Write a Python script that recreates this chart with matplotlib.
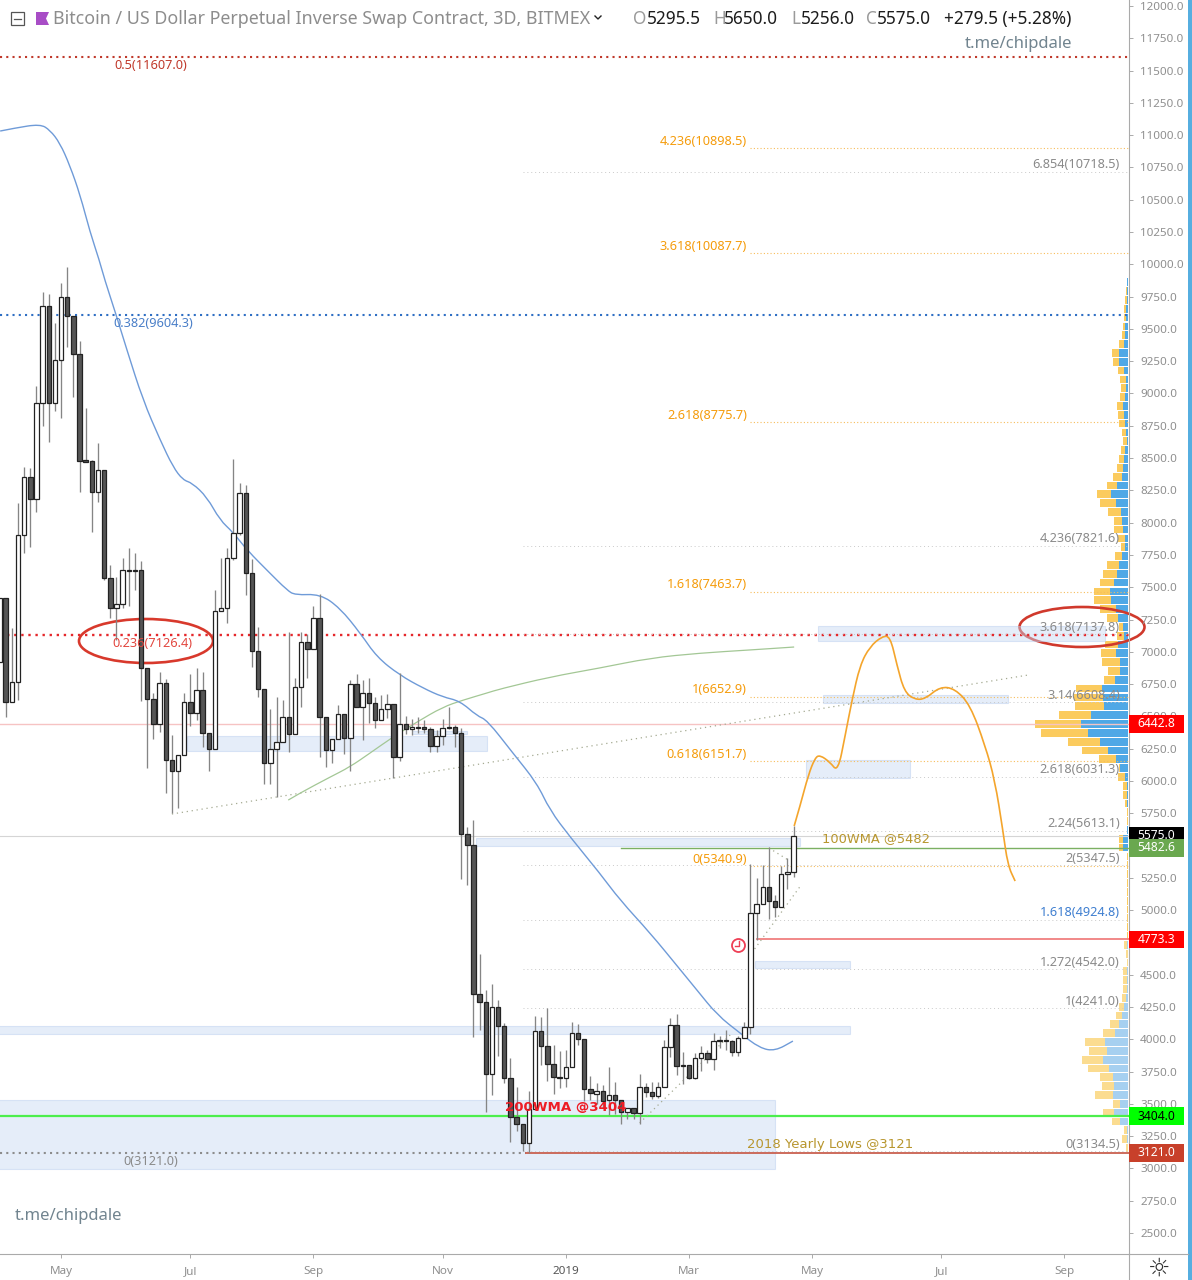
import numpy as np
import matplotlib
matplotlib.use('Agg')
import matplotlib.pyplot as plt
from matplotlib.patches import Rectangle, Ellipse, Circle, Polygon, PathPatch
from matplotlib.path import Path

plt.rcParams['font.family'] = ['Noto Sans', 'DejaVu Sans']

# 3D candles, first one is cut by the left edge of the chart
first_candle = -1
opens = [6921, 7416, 6611, 6766, 7904, 8353, 8183, 8926, 9677, 8926, 9259, 9746, 9599, 9305, 8485, 8477, 8237, 8407, 7571, 7339, 7370, 7633,
         7625, 7633, 6874, 6634, 6441, 6758, 6162, 6077, 6201, 6611, 6526, 6704, 6371, 6247, 7316, 7339, 7726, 7919, 8229, 7610, 7006,
         6712, 6139, 6247, 6301, 6495, 6363, 6727, 7075, 7021, 7261, 6495, 6239, 6325, 6518, 6332, 6750, 6572, 6681, 6603, 6472, 6557,
         6596, 6185, 6441, 6402, 6417, 6417, 6402, 6270, 6348, 6417, 6417, 6371, 5589, 5504, 4350, 4288, 3731, 4250, 4103, 3700, 3398,
         3344, 3197, 3460, 4064, 3948, 3808, 3708, 3700, 3785, 4048, 4002, 3615, 3576, 3599, 3530, 3568, 3530, 3437, 3468, 3429, 3630,
         3592, 3561, 3630, 3940, 4110, 3801, 3801, 3700, 3855, 3894, 3847, 3986, 3994, 3986, 3901, 4010, 4095, 4977, 5047, 5179, 5070,
         5024, 5279, 5295.5]
highs = [7416, 7416, 7184, 8152, 8430, 8423, 9057, 9785, 9770, 9545, 9855, 9979, 9599, 9406, 8887, 8485, 8616, 8407, 7672, 7579, 7726, 7803,
         7765, 7703, 6874, 6681, 6843, 6789, 6355, 6201, 6681, 6828, 6874, 6843, 6371, 7478, 7726, 7803, 8492, 8307, 8291, 7718, 7192,
         6712, 6557, 6650, 6626, 7153, 6797, 7153, 7137, 7354, 7447, 6495, 6325, 6588, 6518, 6781, 6828, 6781, 6797, 6650, 6665, 6673,
         6596, 6836, 6503, 6479, 6495, 6472, 6417, 6394, 6479, 6572, 6433, 6410, 5643, 5697, 4660, 4381, 4428, 4304, 4126, 3855, 3630,
         3344, 3599, 4180, 4172, 4242, 3955, 3909, 3917, 4134, 4118, 4002, 3715, 3661, 3646, 3785, 3669, 3530, 3468, 3468, 3731, 3661,
         3669, 3669, 3994, 4165, 4195, 3901, 3801, 3894, 3948, 3917, 4048, 4025, 4072, 3994, 4025, 4134, 5357, 5248, 5349, 5488, 5117,
         5341, 5403, 5650]
lows = [6921, 6495, 6611, 6626, 7765, 7811, 8082, 8748, 8624, 8864, 8810, 9359, 8972, 8237, 8469, 7927, 8159, 7555, 7261, 7091, 7339, 7354,
        7478, 6619, 6100, 6325, 6379, 5906, 5752, 5790, 6201, 6425, 6472, 6263, 6077, 6247, 7316, 7223, 7710, 7904, 7439, 6882, 6650,
        5976, 5976, 5875, 6301, 6224, 6363, 6572, 6797, 7021, 6185, 6108, 6139, 6325, 6208, 6077, 6572, 6317, 6448, 6410, 6472, 6487,
        6023, 6154, 6363, 6355, 6371, 6371, 6224, 6224, 6278, 6402, 6263, 5241, 5194, 4017, 4072, 3437, 3568, 3870, 3661, 3205, 3290,
        3135, 3121, 3460, 3801, 3677, 3576, 3623, 3630, 3785, 3955, 3522, 3530, 3499, 3468, 3414, 3421, 3344, 3383, 3383, 3344, 3553,
        3537, 3545, 3630, 3863, 3723, 3654, 3692, 3692, 3754, 3816, 3762, 3932, 3917, 3870, 3870, 4010, 4041, 4768, 5047, 4931, 4946,
        5024, 5163, 5256]
closes = [7416, 6611, 6766, 7904, 8353, 8183, 8926, 9677, 8926, 9259, 9746, 9599, 9305, 8477, 8469, 8237, 8407, 7571, 7339, 7370, 7633, 7625,
          7633, 6874, 6634, 6441, 6758, 6162, 6077, 6201, 6611, 6526, 6704, 6371, 6247, 7316, 7339, 7726, 7919, 8229, 7610, 7006, 6712,
          6139, 6247, 6301, 6495, 6363, 6727, 7075, 7021, 7261, 6495, 6239, 6325, 6518, 6332, 6750, 6572, 6681, 6603, 6472, 6557, 6596,
          6185, 6441, 6402, 6417, 6410, 6402, 6270, 6348, 6410, 6410, 6371, 5589, 5504, 4350, 4288, 3731, 4250, 4103, 3700, 3398, 3344,
          3197, 3460, 4064, 3948, 3808, 3708, 3700, 3785, 4048, 4002, 3615, 3584, 3599, 3522, 3568, 3530, 3437, 3468, 3429, 3630, 3592,
          3561, 3630, 3940, 4110, 3793, 3793, 3700, 3855, 3894, 3847, 3986, 3994, 3986, 3901, 4010, 4095, 4977, 5047, 5179, 5070, 5024,
          5279, 5295.5, 5575]

# moving averages and the drawn projection: candle position, price
blue_ma_x = [-0.9, 1.5, 5.6, 7.2, 8.8, 10.4, 12.1, 13.7, 15.2, 16.1, 17.8, 19.7, 22.3, 25.1, 27.2, 28.8, 30.3, 32.7, 34.8, 36.9, 39.2, 42.9,
             45.7, 47, 51.1, 54.3, 57.6, 60.3, 64, 67.8, 71, 73.8, 76.6, 78.2, 82.4, 86.3, 88.4, 91.7, 96.5, 99.8, 104.7, 109.5, 112.3,
             115.6, 119.3, 122.5, 125, 127.9]
blue_ma_y = [11032, 11055, 11086, 11039, 10939, 10768, 10536, 10250, 10033, 9878, 9630, 9336, 8949, 8639, 8430, 8330, 8307, 8198, 8020, 7927,
             7788, 7610, 7478, 7439, 7447, 7339, 7145, 6959, 6820, 6719, 6650, 6619, 6503, 6472, 6216, 5984, 5775, 5566, 5287, 5078, 4823,
             4544, 4381, 4188, 4048, 3932, 3909, 3986]
green_ma_x = [45.9, 47.8, 52.7, 55.9, 59.2, 62.9, 66.8, 71, 74.3, 78.2, 80.3, 88.4, 96.5, 104.7, 112.8, 120.9, 128.1]
green_ma_y = [5852, 5906, 6030, 6108, 6216, 6340, 6456, 6572, 6626, 6681, 6712, 6805, 6874, 6952, 6990, 7014, 7037]
path_x = [128.1, 129.1, 130.4, 131.5, 132.3, 133.9, 135.2, 136.4, 137.5, 138.8, 140.4, 142.4, 143.7, 144.8, 146, 147.7, 149.4, 151.8, 154.2,
          156.7, 159.1, 160.7, 162, 162.8, 164]
path_y = [5651, 5814, 6046, 6180, 6200, 6146, 6070, 6355, 6626, 6897, 7040, 7120, 7120, 6897, 6690, 6630, 6635, 6730, 6715, 6588, 6278, 6007,
          5620, 5349, 5225]

# volume profile, bottom row first
vp_price = [3158, 3226, 3295, 3363, 3432, 3500, 3568, 3637, 3705, 3774, 3842, 3910, 3979, 4047, 4116, 4184, 4252, 4321, 4389, 4458, 4526,
            4594, 4663, 4731, 4800, 4868, 4936, 5005, 5073, 5142, 5210, 5278, 5347, 5415, 5484, 5552, 5620, 5689, 5757, 5826, 5894, 5962,
            6031, 6099, 6168, 6236, 6304, 6373, 6441, 6510, 6578, 6646, 6715, 6783, 6852, 6920, 6988, 7057, 7125, 7194, 7262, 7330, 7399,
            7467, 7536, 7604, 7672, 7741, 7809, 7878, 7946, 8014, 8083, 8151, 8220, 8288, 8356, 8425, 8493, 8562, 8630, 8698, 8767, 8835,
            8904, 8972, 9040, 9109, 9177, 9246, 9314, 9382, 9451, 9519, 9588, 9656, 9724, 9793, 9861]
vp_blue = [0, 1.3, 1.3, 8, 13.7, 8, 15.3, 14, 14.7, 19.3, 25, 21.3, 22.7, 12.7, 9.3, 5.7, 3.7, 2, 1, 1.3, 1.3, 0.5, 0.5, 1, 0.5, 0.5, 0.5,
           0.5, 0.5, 0.5, 0.5, 0.5, 0.5, 0.5, 4.7, 4.7, 1, 0.5, 0.5, 1, 1.3, 1.3, 2.7, 8, 12, 20, 28, 40, 46.7, 36.7, 24, 25.3, 25.7, 12.7,
           8, 8, 11.7, 10.3, 4.3, 5.3, 9.7, 12.3, 17, 18, 13.7, 11.3, 9.3, 6, 2.7, 3.3, 5, 5.7, 7.3, 11.7, 17.3, 11, 6, 4.7, 3.7, 2.7, 1.3,
           2, 2.7, 4, 4.7, 3.3, 2, 2, 3.7, 9.3, 9.3, 4.3, 3.3, 2.7, 1.7, 2, 1.3, 1, 0.7]
vp_yellow = [2, 5, 2.3, 8, 11.3, 6.7, 17.7, 12.3, 13.7, 20.7, 21, 17.3, 20.3, 12.7, 8.7, 6.3, 5.7, 4, 3.7, 4, 3.3, 1, 1.3, 3, 0.5, 0.5, 0.5,
             0.5, 0.5, 0.5, 0.5, 0.5, 0.5, 0.5, 4, 4, 0.3, 0.5, 0.5, 1.7, 4, 3.3, 7, 0.7, 17, 25.7, 32, 46.7, 46.7, 32.3, 28.7, 28.3, 26,
             11.3, 12, 18, 15.3, 12.3, 6.7, 4, 11.3, 15.7, 16.7, 15.7, 14, 13.3, 12, 6.7, 4, 6.3, 9.3, 8.3, 12.3, 16.3, 13.7, 9.7, 8.7, 6.3,
             5.3, 4, 3.7, 3.7, 6, 6, 6.7, 4.7, 5, 6.3, 6.3, 5.3, 6.3, 4.3, 2.3, 2, 2.7, 2, 2, 0.7, 0.3]

# fib levels
orange_labels = ['4.236(10898.5)', '3.618(10087.7)', '2.618(8775.7)', '1.618(7463.7)', '1(6652.9)', '0.618(6151.7)', '0(5340.9)']
orange_levels = [10898.5, 10087.7, 8775.7, 7463.7, 6652.9, 6151.7, 5340.9]
gray_labels = ['6.854(10718.5)', '4.236(7821.6)', '3.618(7137.8)', '3.14(6608.4)', '2.618(6031.3)', '2.24(5613.1)', '2(5347.5)',
               '1.618(4924.8)', '1.272(4542.0)', '1(4241.0)', '0(3134.5)']
gray_levels = [10718.5, 7821.6, 7137.8, 6608.4, 6031.3, 5613.1, 5347.5, 4924.8, 4542.0, 4241.0, 3134.5]

# price zones: start candle, end candle, bottom, top
zone_x0 = [-2, -2, 121.7, 76.4, 130, 132.8, 132, 29.5, 66]
zone_x1 = [125, 137.2, 137.2, 129, 147, 162.8, 178.6, 78.2, 75]
zone_lo = [2995, 4041, 4552, 5496, 6023, 6603, 7083, 6232, 6365]
zone_hi = [3530, 4103, 4606, 5558, 6162, 6665, 7199, 6348, 6385]

# dotted trend lines
trend_x0 = [27, 103, 121.2, 124]
trend_y0 = [5744, 3352, 4668, 5481]
trend_x1 = [166.1, 117.7, 129, 127.4]
trend_y1 = [6820, 4033, 5179, 5380]

month_pos = [9, 30, 50, 71, 91, 111, 131, 152, 172]
month_names = ['May', 'Jul', 'Sep', 'Nov', '2019', 'Mar', 'May', 'Jul', 'Sep']

axis_labels = ['6442.8', '5575.0', '5482.6', '4773.3', '3404.0', '3121.0']
axis_prices = [6442.8, 5575.0, 5482.6, 4773.3, 3404.0, 3121.0]
axis_fill = ['#ff0000', '#000000', '#6aa84f', '#ff0000', '#00ff00', '#c8402a']
axis_ink = ['white', 'white', 'white', 'white', 'black', 'white']

GRAY = '#8f8f8f'
ORANGE = '#f59c0c'


def smooth_line(axes, xs, ys, color, lw, zorder):
    # quadratic curves through the midpoints, so the line has no corners
    pts = list(zip(xs, ys))
    verts = [pts[0]]
    codes = [Path.MOVETO]
    for a, b in zip(pts[1:-1], pts[2:]):
        verts += [a, ((a[0] + b[0]) / 2, (a[1] + b[1]) / 2)]
        codes += [Path.CURVE3, Path.CURVE3]
    verts.append(pts[-1])
    codes.append(Path.LINETO)
    axes.add_patch(PathPatch(Path(verts, codes), facecolor='none', edgecolor=color, lw=lw, zorder=zorder))


fig = plt.figure(figsize=(11.92, 12.8), dpi=100)
ax = fig.add_axes([0, 26 / 1280, 1129 / 1192, 1254 / 1280])
ax.set_xlim(-0.926, 182.5)
ax.set_ylim(2337.4, 12046.5)
ax.patch.set_visible(False)

# volume profile sits under the price chart, units are bar lengths
vp = ax.twiny()
vp.set_xlim(1129, 0)
vp.set_ylim(ax.get_ylim())
vp.axis('off')
ax.set_zorder(vp.get_zorder() + 1)
vp_blue_c = ['#a6d0f0' if p < 4800 else '#4fa8e6' for p in vp_price]
vp_yellow_c = ['#fbdc90' if p < 4800 else '#fbcb5e' for p in vp_price]
vp.barh(vp_price, vp_blue, height=60, left=1, color=vp_blue_c, linewidth=0)
vp.barh(vp_price, vp_yellow, height=60, left=1 + np.array(vp_blue), color=vp_yellow_c, linewidth=0)

for x0, x1, lo, hi in zip(zone_x0, zone_x1, zone_lo, zone_hi):
    ax.add_patch(Rectangle((x0, lo), x1 - x0, hi - lo, facecolor='#c6d8f3', edgecolor='#b4cbee', alpha=0.45, lw=0.8, zorder=1))

# full width levels
ax.axhline(11607.0, color='#c0392b', lw=1.5, ls=(0, (1, 2)), zorder=2)
ax.axhline(9604.3, color='#2f6fc4', lw=1.5, ls=(0, (1, 2)), zorder=2)
ax.axhline(7126.4, color='#e5272b', lw=1.7, ls=(0, (1, 2)), zorder=2)
ax.axhline(6442.8, color='#f6c3c3', lw=1.0, zorder=2)
ax.axhline(5575.0, color='#d5d5d5', lw=0.8, zorder=2)
ax.axhline(3404.0, color='#4cee4c', lw=1.6, zorder=2)
ax.plot([-0.9, 84.5], [3121.0, 3121.0], color='#8c8c8c', lw=1.5, ls=(0, (1, 2)), zorder=2)
ax.plot([84.5, 183], [3121.0, 3121.0], color='#c9604f', lw=1.3, zorder=2)
ax.plot([100, 183], [5482.6, 5482.6], color='#7bb062', lw=1.0, zorder=2)
ax.plot([122, 183], [4773.3, 4773.3], color='#f07f7f', lw=1.3, zorder=2)

for price in orange_levels:
    ax.plot([121, 183], [price, price], color='#f7bd5c', lw=0.8, ls=(0, (1, 2)), zorder=2)
for price in gray_levels:
    ax.plot([84, 183], [price, price], color='#c9c9c9', lw=0.7, ls=(0, (1, 3)), zorder=2)

for x0, y0, x1, y1 in zip(trend_x0, trend_y0, trend_x1, trend_y1):
    ax.plot([x0, x1], [y0, y1], color='#a5aa92', lw=0.9, ls=(0, (1, 3)), zorder=2)

smooth_line(ax, green_ma_x, green_ma_y, '#a3c795', 0.9, 3)
smooth_line(ax, blue_ma_x, blue_ma_y, '#6f9bd8', 1.0, 3)
smooth_line(ax, path_x, path_y, '#f4a52c', 1.2, 6)

# candles
idx = np.arange(first_candle, first_candle + len(opens))
o = np.array(opens, dtype=float)
c = np.array(closes, dtype=float)
ax.vlines(idx, lows, highs, color='#858585', lw=0.95, zorder=4)
up = c >= o
ax.bar(idx[up], (c - o)[up], bottom=o[up], width=0.72, facecolor='white', edgecolor='#222222', lw=0.9, zorder=5)
ax.bar(idx[~up], (c - o)[~up], bottom=o[~up], width=0.72, facecolor='#555555', edgecolor='#222222', lw=0.9, zorder=5)

# fib labels
for label, price in zip(orange_labels, orange_levels):
    ax.annotate(label, xy=(120.45, price), xytext=(0, 5), textcoords='offset points', ha='right', va='center',
                color=ORANGE, fontsize=9.2, fontweight='medium', zorder=8)
for label, price in zip(gray_labels, gray_levels):
    color = '#3f7fd0' if label.startswith('1.618') else '#8a8a8a'
    ax.annotate(label, xy=(181, price), xytext=(0, 5), textcoords='offset points', ha='right', va='center',
                color=color, fontsize=9.2, zorder=8)


def level_note(label, price, x, color):
    ax.annotate(label, xy=(x, price), xytext=(0, -6), textcoords='offset points', ha='center', va='center',
                color=color, fontsize=9.2, zorder=8)


level_note('0.5(11607.0)', 11607.0, 23.6, '#c0392b')
level_note('0.382(9604.3)', 9604.3, 23.9, '#4a7fc8')
level_note('0.236(7126.4)', 7126.4, 23.9, '#e2473f')
level_note('0(3121.0)', 3121.0, 23.6, '#8a8a8a')

ax.text(132.6, 5552, '100WMA @5482', color='#b8962e', fontsize=9.4, family='DejaVu Sans', ha='left', va='center', zorder=8)
ax.text(120.4, 3182, '2018 Yearly Lows @3121', color='#b8962e', fontsize=9.5, family='DejaVu Sans', ha='left', va='center', zorder=8)
ax.text(81.2, 3470, '200WMA @3404', color='#ee1c25', fontsize=9.6, family='DejaVu Sans', fontweight='bold', ha='left', va='center', zorder=8)

# axes, labels under the 4773.3 and 5482.6 boxes are covered anyway
ax.yaxis.tick_right()
y_ticks = np.arange(2500, 12001, 250)
ax.set_yticks(y_ticks)
ax.set_yticklabels(['' if v in (4750, 5500) else f'{v:.1f}' for v in y_ticks])
ax.tick_params(axis='y', length=3, width=0.7, color='#aaaaaa', labelcolor=GRAY, labelsize=8.4, pad=5)
ax.set_xticks(month_pos)
ax.set_xticklabels(month_names)
ax.tick_params(axis='x', length=3, width=0.7, color='#aaaaaa', labelcolor=GRAY, labelsize=8.4, pad=5.5)
ax.get_xticklabels()[4].set_fontweight('bold')
ax.get_xticklabels()[4].set_color('#555555')
for side in ['top', 'left']:
    ax.spines[side].set_visible(False)
for side in ['right', 'bottom']:
    ax.spines[side].set_color('#aaaaaa')
    ax.spines[side].set_linewidth(0.8)

# coloured price boxes on the axis
ytrans = ax.get_yaxis_transform()
for label, price, fill, ink in zip(axis_labels, axis_prices, axis_fill, axis_ink):
    ax.add_patch(Rectangle((1.0, price - 68), 55 / 1129, 136, transform=ytrans, facecolor=fill, edgecolor='none', clip_on=False, zorder=9))
    ax.text(1.0 + 27.5 / 1129, price, label, transform=ytrans, color=ink, fontsize=8.7, ha='center', va='center',
            fontweight='medium', clip_on=False, zorder=10)

# header and drawn bits, in picture pixels
ov = fig.add_axes([0, 0, 1, 1])
ov.set_xlim(0, 1192)
ov.set_ylim(1280, 0)
ov.axis('off')
ov.add_patch(Rectangle((11, 12), 13, 13, facecolor='none', edgecolor='#555555', lw=0.9))
ov.plot([14, 21], [18.5, 18.5], color='#555555', lw=0.9)
ov.add_patch(Polygon([[36, 12], [49, 12], [46, 18.5], [49, 25], [36, 25]], closed=True, facecolor='#a84dc6', edgecolor='none'))
ov.plot([595, 598, 601], [16, 19, 16], color='#222222', lw=1.0)
ov.text(53, 19, 'Bitcoin / US Dollar Perpetual Inverse Swap Contract, 3D, BITMEX', color='#8d8d8d', fontsize=12.85, va='center', ha='left')

ohlc_letters = ['O', 'H', 'L', 'C']
ohlc_values = ['5295.5', '5650.0', '5256.0', '5575.0']
ohlc_x = [633, 713, 791, 866]
ohlc_vx = [647, 724, 801, 877]
for letter, value, lx, vx in zip(ohlc_letters, ohlc_values, ohlc_x, ohlc_vx):
    ov.text(lx, 19, letter, color='#9a9a9a', fontsize=12.4, va='center', ha='left')
    ov.text(vx, 19, value, color='#1c1c1c', fontsize=12.4, va='center', ha='left')
ov.text(944, 19, '+279.5 (+5.28%)', color='#1c1c1c', fontsize=12.4, va='center', ha='left')
ov.text(965, 44, 't.me/chipdale', color='#71848f', fontsize=12, va='center', ha='left')
ov.text(15, 1216, 't.me/chipdale', color='#71848f', fontsize=12, va='center', ha='left')

ov.add_patch(Ellipse((146, 641), 134, 44, facecolor='none', edgecolor='#d8392c', lw=1.9))
ov.add_patch(Ellipse((1082, 627), 125, 40, facecolor='none', edgecolor='#d0392c', lw=1.9))
ov.add_patch(Circle((738.5, 945.5), 6.5, facecolor='white', edgecolor='#ee3f55', lw=1.3))
ov.plot([738.5, 738.5, 735], [941, 946, 946], color='#ee3f55', lw=1.0)

ov.plot([1129, 1188], [1254, 1254], color='#aaaaaa', lw=0.8)
ov.plot([1129, 1129], [1254, 1280], color='#aaaaaa', lw=0.8)
ov.add_patch(Rectangle((1188, 0), 4, 1280, facecolor='#56aee0', edgecolor='none'))
ov.text(1159, 1269, '\u263c', color='#333333', fontsize=18, family='DejaVu Sans', ha='center', va='center')

fig.savefig('out.png', dpi=100, facecolor='white')
